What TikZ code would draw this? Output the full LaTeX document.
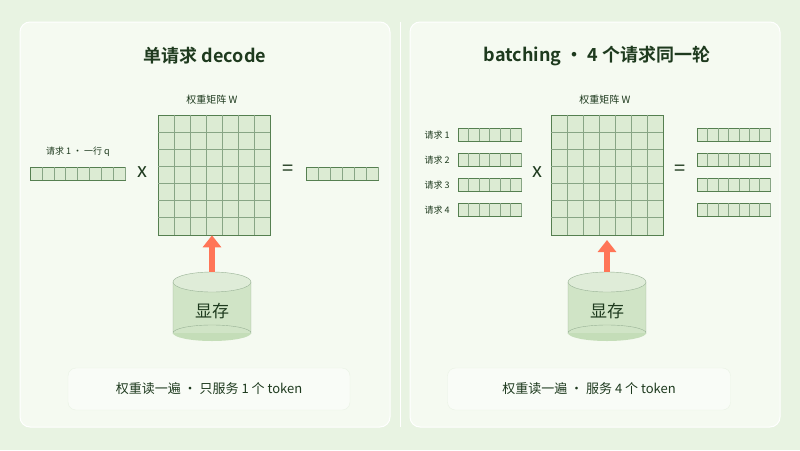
\documentclass[tikz,border=0pt]{standalone}
\usepackage{fontspec}
\setmainfont{Noto Sans CJK SC}[BoldFont={* Bold}]
\usetikzlibrary{calc}
\usetikzlibrary{arrows.meta}
\usetikzlibrary{positioning}
\usetikzlibrary{shapes.geometric}
\definecolor{bgc}{HTML}{E8F3E2}
\definecolor{panelc}{HTML}{F5FAF1}
\definecolor{cellc}{HTML}{DCEBD3}
\definecolor{linec}{HTML}{557F50}
\definecolor{txtc}{HTML}{1E3A1E}
\definecolor{cylc}{HTML}{C4DDB8}
\definecolor{arrc}{HTML}{FF7557}
\tikzset{>=latex}
\tikzstyle{panel} = [draw=white, fill=panelc, rounded corners=10pt, line width=1pt]
\tikzstyle{note} = [draw=cellc!60, fill=panelc!60!white, rounded corners=8pt]
\tikzstyle{cell} = [draw=linec, fill=cellc, line width=0.6pt]
\tikzstyle{lbl} = [text=txtc, font=\fontsize{9}{9}\selectfont]
\tikzstyle{op} = [text=txtc, font=\fontsize{20}{20}\selectfont]
% vector of #3 cells: lower-left at #1, width #2
\newcommand{\vecbar}[3]{
  \draw [cell] (#1) rectangle ++(#2, -13);
  \foreach \k in {1,...,#3} \draw [linec!70, line width=0.3pt] ($(#1)+(\k*#2/#3, 0)$) -- ++(0, -13);
}
\newcommand{\drum}[2]{
  \fill [cylc] (#1, 333) ellipse (39 and 8);
  \fill [cylc!80!white] (#1-39, 282) rectangle (#1+39, 333);
  \draw [linec!60] (#1-39, 282) -- (#1-39, 333) arc (180:360:39 and 8) -- (#1+39, 282);
  \draw [linec!60, fill=cylc!55!white] (#1, 282) ellipse (39 and 10);
  \node [font=\fontsize{17}{17}\selectfont, text=txtc] (#2) at (#1, 311) {显存};
}
\begin{document}
\begin{tikzpicture}[x=1pt, y=-1pt]
\fill [bgc] (0, 0) rectangle (800, 450);
\draw [white, line width=1pt] (400, 22) -- (400, 427);
\draw [panel] (20, 22) rectangle (390, 427);
\draw [panel] (410, 22) rectangle (780, 427);

% left panel
\node [text=txtc, font=\bfseries\fontsize{18}{18}\selectfont] (T1) at (205, 56) {单请求 decode};
\node [lbl, font=\fontsize{10}{10}\selectfont] (WL1) at (212, 100) {权重矩阵 W};
\node [cell, minimum width=112, minimum height=120, inner sep=0] (W1) at (214, 175) {};
\foreach \i in {1,...,6} {
  \draw [linec!70, line width=0.3pt] ($(W1.north west)+(\i*16, 0)$) -- ($(W1.south west)+(\i*16, 0)$);
  \draw [linec!70, line width=0.3pt] ($(W1.north west)+(0, \i*17.14)$) -- ($(W1.north east)+(0, \i*17.14)$);
}
\node [lbl] (Q) at (78, 152) {请求 1 · 一行 q};
\vecbar{30,180}{95}{8}
\node [op] (X1) at (142, 172) {x};
\node [op] (E1) at (288, 170) {=};
\vecbar{306,180}{72}{6}
\drum{212}{M1}
\draw [-{Triangle[width=18pt, length=12pt]}, line width=6pt, arrc] (212, 272) -- (W1.south -| 212, 240);
\node [note, minimum width=282, minimum height=42] (N1) at (209, 389) {};
\node [text=txtc, font=\fontsize{13}{13}\selectfont] at (N1) {权重读一遍 · 只服务 1 个 token};

% right panel
\node [text=txtc, font=\bfseries\fontsize{18}{18}\selectfont] (T2) at (597, 56) {batching · 4 个请求同一轮};
\node [lbl, font=\fontsize{10}{10}\selectfont] (WL2) at (605, 100) {权重矩阵 W};
\node [cell, minimum width=112, minimum height=120, inner sep=0] (W2) at (607, 175) {};
\foreach \i in {1,...,6} {
  \draw [linec!70, line width=0.3pt] ($(W2.north west)+(\i*16, 0)$) -- ($(W2.south west)+(\i*16, 0)$);
  \draw [linec!70, line width=0.3pt] ($(W2.north west)+(0, \i*17.14)$) -- ($(W2.north east)+(0, \i*17.14)$);
}
\foreach \r in {1,...,4} {
  \node [lbl] (R\r) at (437, 110+\r*25) {请求 \r};
  \vecbar{458,{116+\r*25}}{63}{6}
  \vecbar{697,{116+\r*25}}{73}{7}
}
\node [op] (X2) at (537, 172) {x};
\node [op] (E2) at (680, 170) {=};
\drum{607}{M2}
\draw [-{Triangle[width=18pt, length=12pt]}, line width=6pt, arrc] (607, 272) -- (607, 240);
\node [note, minimum width=283, minimum height=42] (N2) at (589, 389) {};
\node [text=txtc, font=\fontsize{13}{13}\selectfont] at (N2) {权重读一遍 · 服务 4 个 token};
\end{tikzpicture}
\end{document}
